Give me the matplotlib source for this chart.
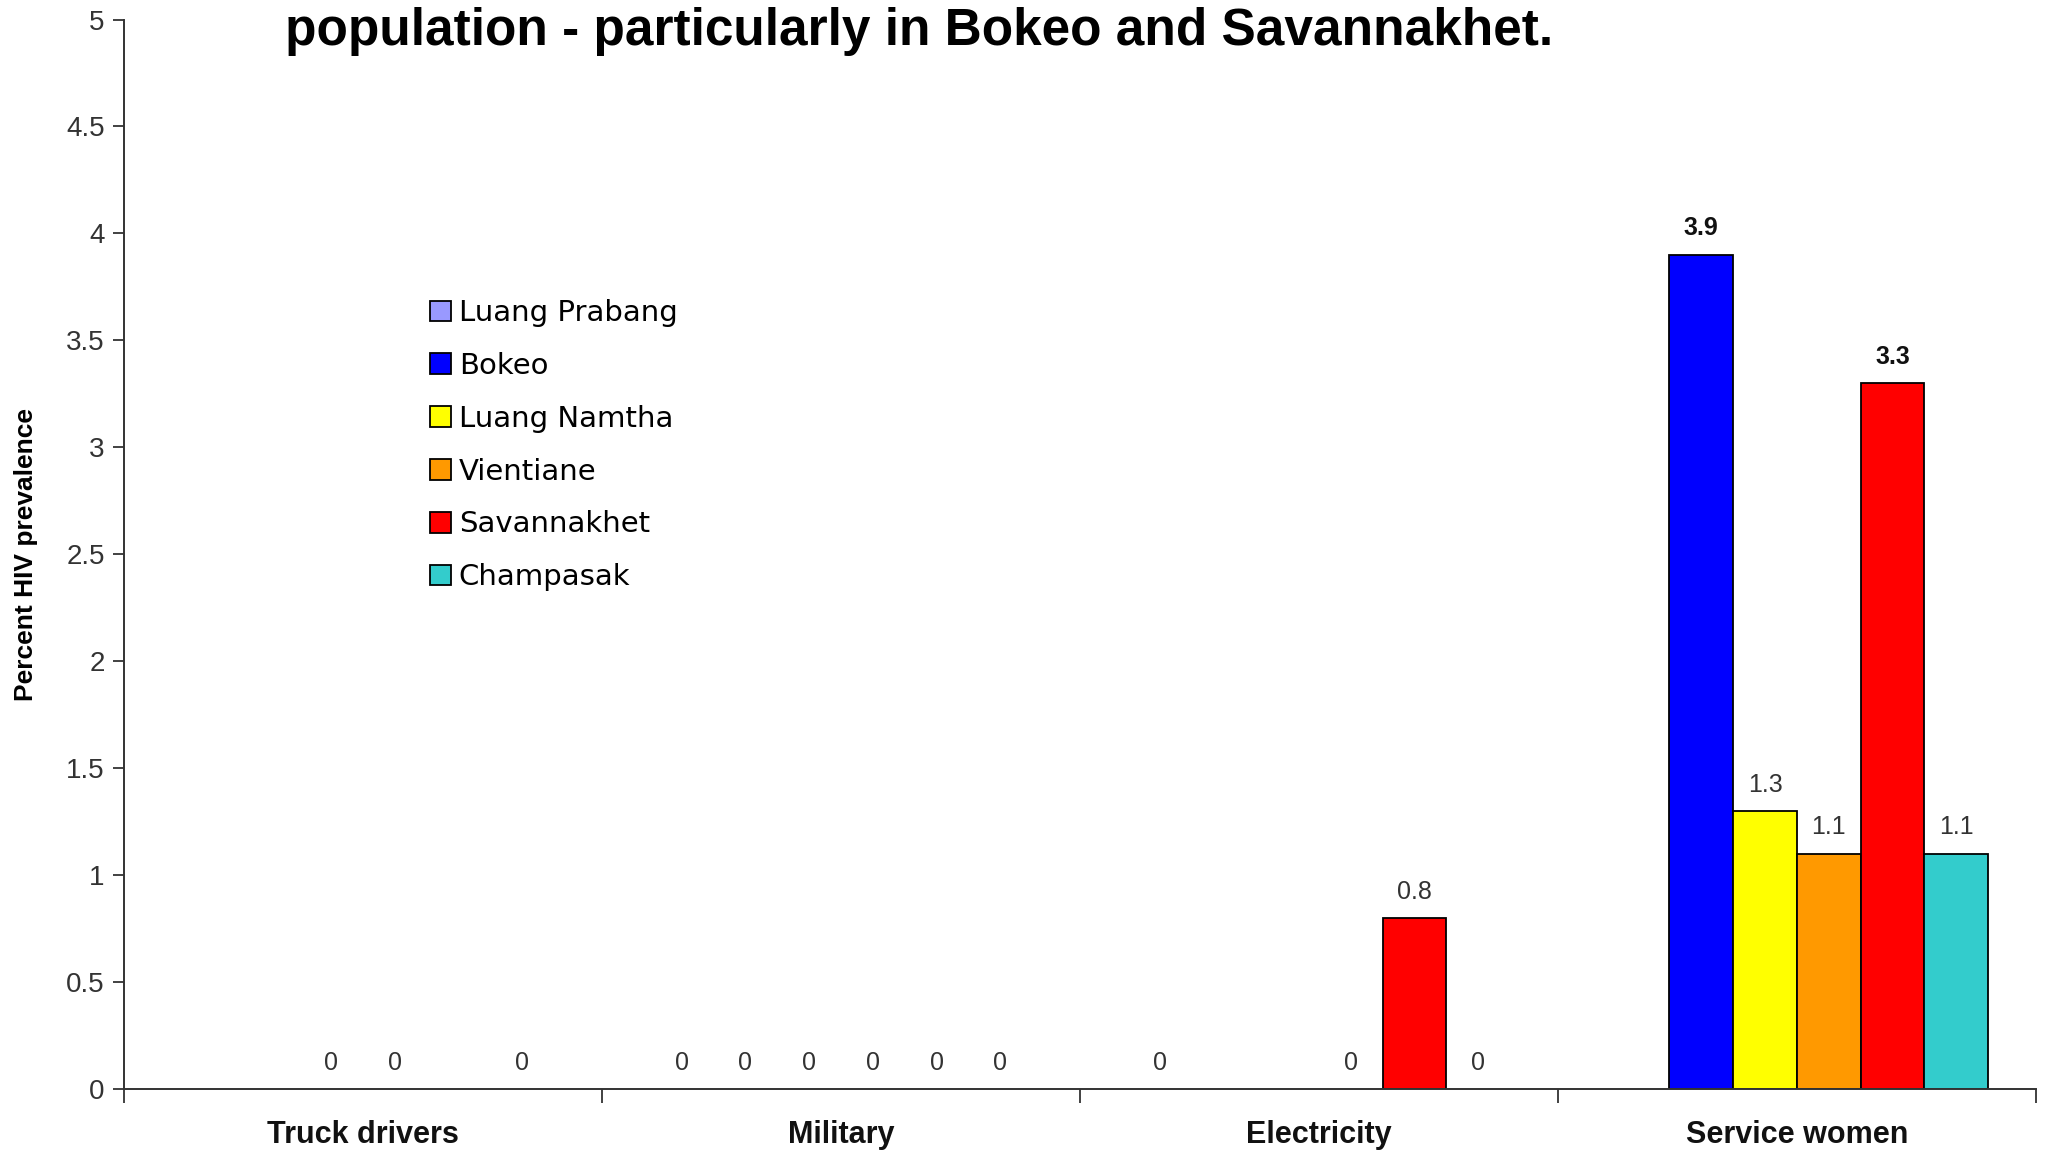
"""HIV prevalence by population group and province (bar chart recreation)."""

import matplotlib

matplotlib.use("Agg")
import matplotlib.pyplot as plt
import numpy as np
from matplotlib.ticker import FixedLocator, FuncFormatter

NAN = np.nan

CATEGORIES = ["Truck drivers", "Military", "Electricity", "Service women"]
PROVINCES = ["Luang Prabang", "Bokeo", "Luang Namtha", "Vientiane", "Savannakhet", "Champasak"]
LUANG_PRABANG = [NAN, 0, 0, NAN]
BOKEO = [NAN, 0, NAN, 3.9]
LUANG_NAMTHA = [0, 0, NAN, 1.3]
VIENTIANE = [0, 0, 0, 1.1]
SAVANNAKHET = [NAN, 0, 0.8, 3.3]
CHAMPASAK = [0, 0, 0, 1.1]
SERIES = [LUANG_PRABANG, BOKEO, LUANG_NAMTHA, VIENTIANE, SAVANNAKHET, CHAMPASAK]
BOLD_LABELS = {("Service women", "Bokeo"), ("Service women", "Savannakhet")}
Y_TICKS = [0, 0.5, 1, 1.5, 2, 2.5, 3, 3.5, 4, 4.5, 5]

COLORS = ["#9999FF", "#0000FF", "#FFFF00", "#FF9900", "#FF0000", "#33CCCC"]
TITLE = "population - particularly in Bokeo and Savannakhet."
Y_LABEL = "Percent HIV prevalence"

ARIAL = ["Liberation Sans", "DejaVu Sans"]

plt.rcParams.update({
    "font.family": ARIAL,
    "axes.spines.top": False,
    "axes.spines.right": False,
    "axes.linewidth": 1.4,
    "axes.edgecolor": "#333333",
})

fig = plt.figure(figsize=(20.49, 11.5), dpi=100)
ax = fig.add_axes([0.0606, 0.053, 0.933, 0.930])

n = len(PROVINCES)
width = 1.0 / (n + 1.5)
x = np.arange(len(CATEGORIES))
for i, (name, values, color) in enumerate(zip(PROVINCES, SERIES, COLORS)):
    vals = np.asarray(values, dtype=float)
    pos = x + (i - (n - 1) / 2) * width
    drawn = np.where(vals > 0, vals, NAN)
    ax.bar(pos, drawn, width, color=color, edgecolor="black", linewidth=1.3, label=name, zorder=2)
    for cat, px, v in zip(CATEGORIES, pos, vals):
        if np.isnan(v):
            continue
        bold = (cat, name) in BOLD_LABELS
        ax.annotate(
            f"{v:g}",
            (px, v),
            xytext=(0, 19),
            textcoords="offset points",
            ha="center",
            va="center",
            fontsize=18,
            fontweight="bold" if bold else "normal",
            color="#111111" if bold else "#333333",
        )

ax.set_xlim(-0.5, len(CATEGORIES) - 0.5)
ax.set_ylim(0, 5)
ax.yaxis.set_major_locator(FixedLocator(Y_TICKS))
ax.yaxis.set_major_formatter(FuncFormatter(lambda v, _: f"{v:g}"))
ax.tick_params(axis="y", direction="out", length=8, width=1.3, colors="#333333", labelsize=20, pad=6)

ax.xaxis.set_major_locator(FixedLocator(np.arange(len(CATEGORIES) + 1) - 0.5))
ax.xaxis.set_major_formatter(FuncFormatter(lambda v, _: ""))
ax.xaxis.set_minor_locator(FixedLocator(x))
ax.set_xticks(x, CATEGORIES, minor=True)
ax.tick_params(axis="x", which="major", direction="out", length=10, width=1.3, colors="#333333")
ax.tick_params(axis="x", which="minor", length=0, pad=22, labelsize=22)
for lab in ax.get_xticklabels(minor=True):
    lab.set_fontweight("bold")
    lab.set_color("#111111")

ax.set_ylabel(Y_LABEL, fontsize=19, fontweight="bold", labelpad=20)

ax.legend(
    loc="center left",
    bbox_to_anchor=(0.146, 0.602),
    frameon=False,
    prop={"family": "DejaVu Sans", "size": 21},
    handlelength=0.72,
    handleheight=0.72,
    handletextpad=0.28,
    labelspacing=0.85,
)

fig.text(0.4485, 0.973, TITLE, ha="center", va="center", fontsize=37, fontweight="bold", color="black")

fig.savefig("out.png", dpi=100)
